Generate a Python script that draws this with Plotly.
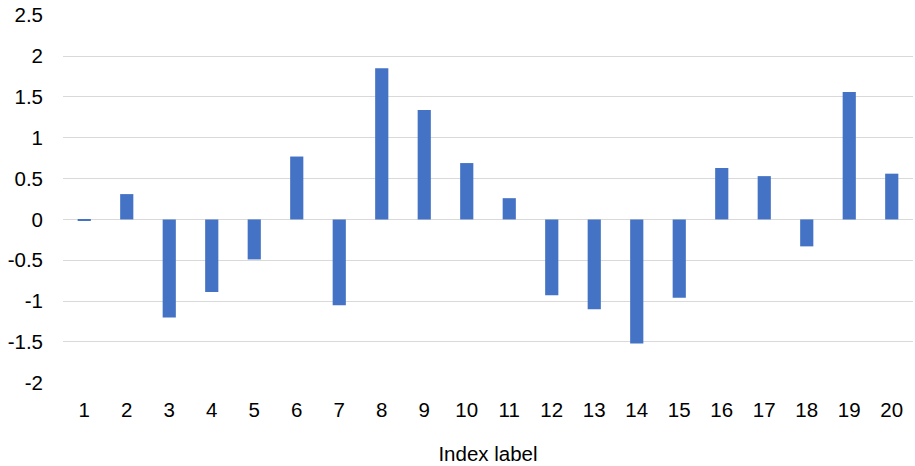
import plotly.graph_objects as go

categories = [str(i) for i in range(1, 21)]
values = [-0.01, 0.31, -1.20, -0.89, -0.49, 0.77, -1.05, 1.85, 1.34, 0.69,
          0.26, -0.93, -1.10, -1.52, -0.96, 0.63, 0.53, -0.33, 1.56, 0.56]
y_ticks = [-2, -1.5, -1, -0.5, 0, 0.5, 1, 1.5, 2, 2.5]
y_tick_labels = ["-2", "-1.5", "-1", "-0.5", "0", "0.5", "1", "1.5", "2", "2.5"]

fig = go.Figure(go.Bar(x=categories, y=values, marker_color="#4472C4",
                       marker_line_width=0, width=0.31))

font = dict(family="Liberation Sans, Arial, sans-serif", size=20.5, color="#000000")
fig.update_layout(
    width=915, height=466,
    margin=dict(l=63, r=2, t=15, b=83),
    plot_bgcolor="white", paper_bgcolor="white",
    font=font, showlegend=False,
)
fig.update_xaxes(type="category", showgrid=False, showline=False, zeroline=False,
                 ticks="", ticklabelstandoff=12, automargin=False,
                 title=dict(text="Index label", font=font, standoff=27))
fig.update_yaxes(range=[-2.003, 2.503], tickmode="array", tickvals=y_ticks,
                 ticktext=y_tick_labels, showgrid=True, gridcolor="#d9d9d9",
                 gridwidth=1, zeroline=True, zerolinecolor="#d9d9d9",
                 zerolinewidth=1, ticks="", ticklabelstandoff=19,
                 ticklabeloverflow="allow", automargin=False)
fig.write_html("out.html", config={"displayModeBar": False},
               post_script="document.body.style.margin='0';document.body.style.overflow='hidden';")
